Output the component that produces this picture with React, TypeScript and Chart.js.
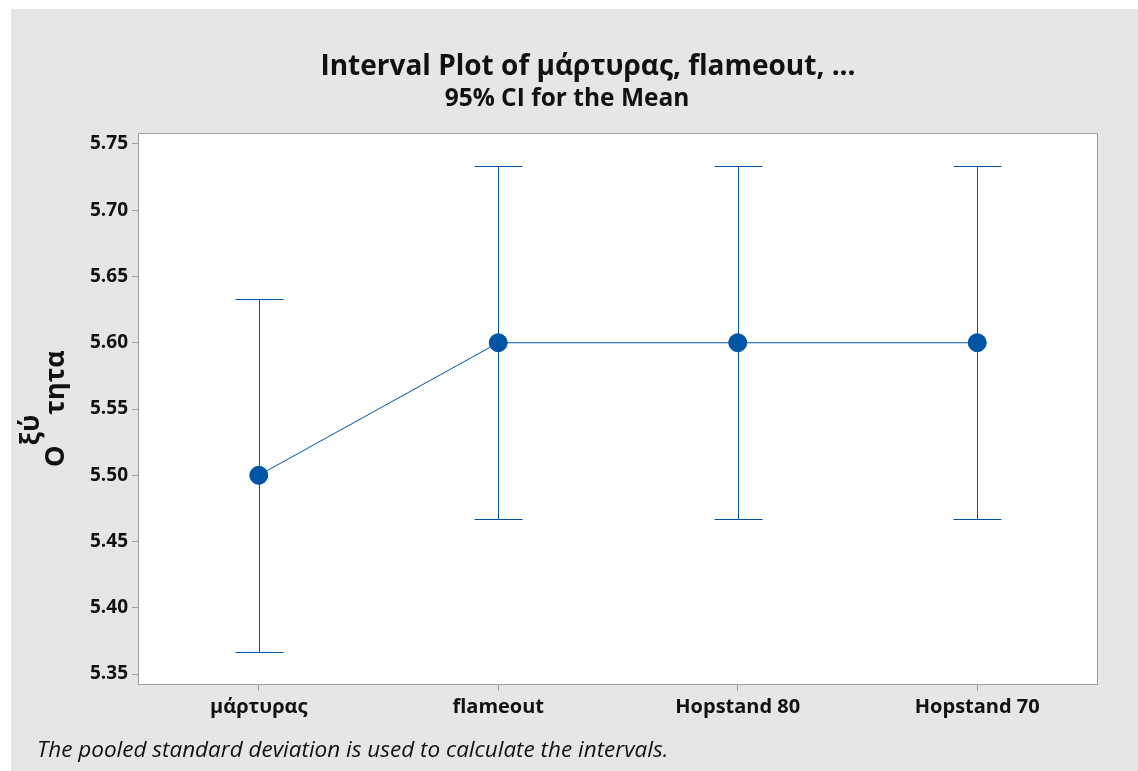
import React, { useEffect, useRef } from "react";
import { Chart, registerables } from "chart.js";

Chart.register(...registerables);

const categories = ["μάρτυρας", "flameout", "Hopstand 80", "Hopstand 70"];
const means = [5.5, 5.6, 5.6, 5.6];
const lowerCI = [5.367, 5.467, 5.467, 5.467];
const upperCI = [5.633, 5.733, 5.733, 5.733];
const yTicks = [5.35, 5.4, 5.45, 5.5, 5.55, 5.6, 5.65, 5.7, 5.75];
const yMin = 5.3425;
const yMax = 5.7575;

const titleText = "Interval Plot of μάρτυρας, flameout, ...";
const subtitleText = "95% CI for the Mean";
const footnoteText = "The pooled standard deviation is used to calculate the intervals.";
const yLabelParts = ["Ο", "ξύ", "τητα"];

const FONT = "'Open Sans', 'Noto Sans', sans-serif";
const BLUE = "#0054a6";
const GRAY_BG = "#e6e6e6";
const BORDER = "#a0a0a0";

const decorPlugin = {
  id: "decor",
  beforeDraw(chart: any) {
    const { ctx, chartArea, width, height } = chart;
    ctx.save();
    ctx.fillStyle = "#ffffff";
    ctx.fillRect(0, 0, width, height);
    ctx.fillStyle = GRAY_BG;
    ctx.fillRect(11, 9, width - 11, height - 9);
    ctx.fillStyle = "#ffffff";
    ctx.fillRect(chartArea.left, chartArea.top, chartArea.right - chartArea.left, chartArea.bottom - chartArea.top);
    ctx.restore();
  },
  beforeDatasetsDraw(chart: any) {
    const { ctx } = chart;
    const xs = chart.scales.x;
    const ys = chart.scales.y;
    ctx.save();
    ctx.strokeStyle = BLUE;
    ctx.lineWidth = 1;
    for (let i = 0; i < categories.length; i++) {
      const x = Math.round(xs.getPixelForValue(i)) + 0.5;
      const yl = Math.round(ys.getPixelForValue(lowerCI[i])) + 0.5;
      const yh = Math.round(ys.getPixelForValue(upperCI[i])) + 0.5;
      ctx.beginPath();
      ctx.moveTo(x, yl);
      ctx.lineTo(x, yh);
      ctx.moveTo(x - 24, yl);
      ctx.lineTo(x + 24, yl);
      ctx.moveTo(x - 24, yh);
      ctx.lineTo(x + 24, yh);
      ctx.stroke();
    }
    ctx.restore();
  },
  afterDraw(chart: any) {
    const { ctx, chartArea } = chart;
    ctx.save();
    // plot border
    ctx.strokeStyle = BORDER;
    ctx.lineWidth = 1;
    ctx.strokeRect(chartArea.left - 0.5, chartArea.top - 0.5, chartArea.right - chartArea.left + 1, chartArea.bottom - chartArea.top + 1);
    // titles
    ctx.fillStyle = "#111111";
    ctx.textAlign = "center";
    ctx.textBaseline = "alphabetic";
    ctx.font = `bold 28px ${FONT}`;
    ctx.fillText(titleText, 588, 75);
    ctx.font = `bold 24.5px ${FONT}`;
    ctx.fillText(subtitleText, 567, 106);
    // footnote
    ctx.textAlign = "left";
    ctx.font = `italic 22.5px ${FONT}`;
    ctx.fillText(footnoteText, 37, 757);
    // y axis label (with displaced middle part)
    ctx.font = `bold 27px ${FONT}`;
    ctx.translate(64, 467);
    ctx.rotate(-Math.PI / 2);
    const w0 = ctx.measureText(yLabelParts[0]).width;
    const w1 = ctx.measureText(yLabelParts[1]).width;
    ctx.fillText(yLabelParts[0], 0, 0);
    ctx.fillText(yLabelParts[1], w0, -25);
    ctx.fillText(yLabelParts[2], w0 + w1, 0);
    ctx.restore();
  },
};

export default function App() {
  const ref = useRef<HTMLCanvasElement | null>(null);
  useEffect(() => {
    if (!ref.current) return;
    const chart = new Chart(ref.current, {
      type: "line",
      data: {
        labels: categories,
        datasets: [
          {
            data: means,
            borderColor: BLUE,
            borderWidth: 1,
            backgroundColor: BLUE,
            pointBackgroundColor: BLUE,
            pointBorderColor: BLUE,
            pointRadius: 9,
            pointHoverRadius: 9,
            tension: 0,
          },
        ],
      },
      options: {
        animation: false,
        responsive: false,
        maintainAspectRatio: false,
        layout: { padding: { left: 0, right: 41, top: 134, bottom: 0 } },
        plugins: {
          legend: { display: false },
          tooltip: { enabled: false },
          title: { display: false },
        },
        scales: {
          x: {
            type: "category",
            offset: true,
            grid: { display: true, drawOnChartArea: false, drawTicks: true, tickLength: 7, color: BORDER, offset: false },
            border: { display: false },
            ticks: {
              color: "#111111",
              padding: 4,
              font: { family: FONT, size: 20, weight: "bold" },
              maxRotation: 0,
            },
            afterFit(scale: any) {
              scale.height = 87;
            },
          },
          y: {
            type: "linear",
            min: yMin,
            max: yMax,
            grid: { display: true, drawOnChartArea: false, drawTicks: true, tickLength: 7, color: BORDER },
            border: { display: false },
            afterBuildTicks(scale: any) {
              scale.ticks = yTicks.map((v) => ({ value: v }));
            },
            ticks: {
              color: "#111111",
              padding: 4,
              font: { family: FONT, size: 19, weight: "bold" },
              callback: (v: any) => Number(v).toFixed(2),
            },
            afterFit(scale: any) {
              scale.width = 139;
            },
          },
        },
      },
      plugins: [decorPlugin],
    });
    return () => chart.destroy();
  }, []);
  return (
    <div style={{ position: "absolute", left: 0, top: 0, width: 1138, height: 771 }}>
      <canvas ref={ref} width={1138} height={771} style={{ display: "block" }} />
    </div>
  );
}
